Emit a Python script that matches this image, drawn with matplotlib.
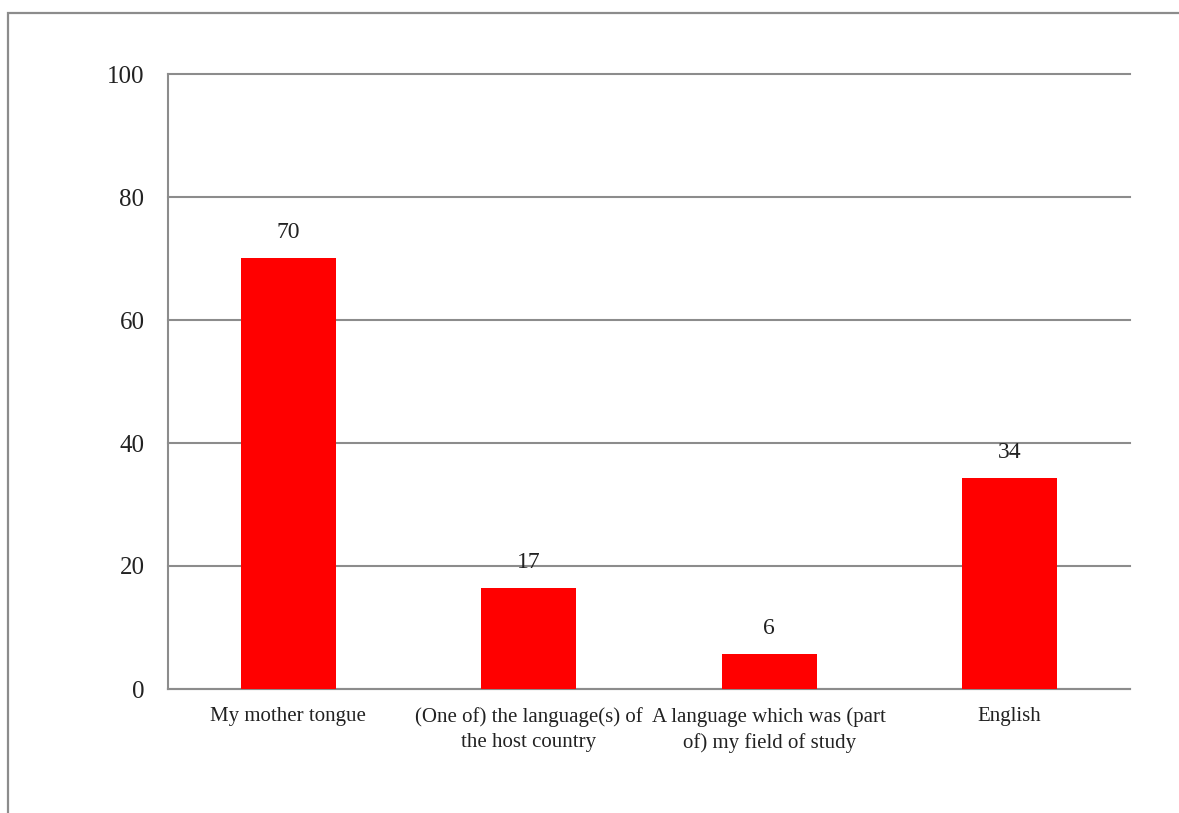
import matplotlib
matplotlib.use("Agg")
import matplotlib.pyplot as plt
from matplotlib.patches import Rectangle

categories = [
    "My mother tongue",
    "(One of) the language(s) of\nthe host country",
    "A language which was (part\nof) my field of study",
    "English",
]
values = [70.1, 16.5, 5.7, 34.3]
value_labels = ["70", "17", "6", "34"]
y_ticks = [0, 20, 40, 60, 80, 100]

plt.rcParams['font.family'] = ['Liberation Serif', 'DejaVu Serif']

fig = plt.figure(figsize=(11.79, 8.13), dpi=100)
# outer frame (clipped on right/bottom like the source)
fig.patches.append(Rectangle((8 / 1179, -0.1), 1.2, 1 - 13 / 813 + 0.1,
                             transform=fig.transFigure, fill=False,
                             edgecolor='#8c8c8c', linewidth=1.6))

ax = fig.add_axes([168 / 1179, 1 - 689 / 813, 962 / 1179, 615 / 813])
x = range(len(categories))
bars = ax.bar(x, values, width=0.395, color='#ff0000', zorder=3)

for b, lab in zip(bars, value_labels):
    ax.text(b.get_x() + b.get_width() / 2, b.get_height() + 2.4, lab,
            ha='center', va='bottom', fontsize=17, color='#222222')

ax.set_xlim(-0.5, 3.5)
ax.set_ylim(0, 100)
ax.set_yticks(y_ticks)
ax.set_yticklabels([str(t) for t in y_ticks], fontsize=18, color='#222222')
ax.set_xticks(list(x))
ax.set_xticklabels(categories, fontsize=15, color='#222222', linespacing=1.4)
ax.tick_params(axis='both', length=0)
ax.tick_params(axis='y', pad=17)
ax.tick_params(axis='x', pad=13)

ax.grid(axis='y', color='#8c8c8c', linewidth=1.5, zorder=0)
for gl in ax.get_ygridlines():
    gl.set_clip_on(False)
for side in ['top', 'right']:
    ax.spines[side].set_visible(False)
for side in ['left', 'bottom']:
    ax.spines[side].set_color('#8c8c8c')
    ax.spines[side].set_linewidth(1.5)

fig.savefig("out.png", dpi=100)
